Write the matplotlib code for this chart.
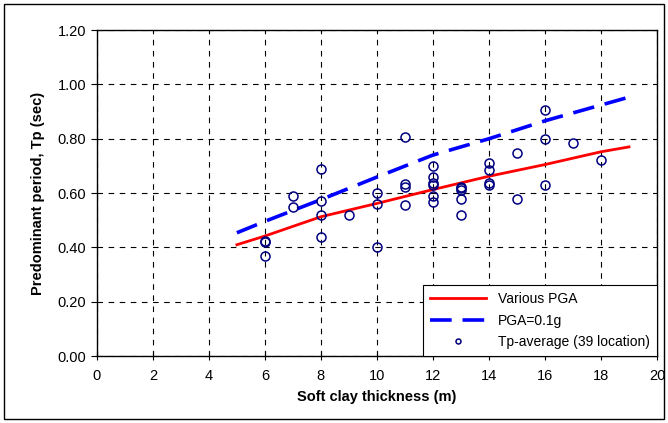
import numpy as np
import matplotlib
matplotlib.use("Agg")
import matplotlib.pyplot as plt
from matplotlib.patches import Rectangle

plt.rcParams["font.family"] = ["Liberation Sans", "DejaVu Sans"]

# Datos
thickness = [6, 6, 6, 7, 7, 8, 8, 8, 8, 9, 10, 10, 10,
             11, 11, 11, 11, 12, 12, 12, 12, 12, 12,
             13, 13, 13, 13, 13, 14, 14, 14, 14, 15, 15,
             16, 16, 16, 17, 18]
tp_avg = [0.42, 0.425, 0.37, 0.59, 0.55, 0.69, 0.57, 0.52, 0.44, 0.52, 0.60, 0.56, 0.40,
          0.805, 0.633, 0.623, 0.558, 0.70, 0.66, 0.638, 0.629, 0.59, 0.567,
          0.623, 0.617, 0.611, 0.58, 0.519, 0.709, 0.685, 0.636, 0.629, 0.748, 0.578,
          0.905, 0.80, 0.63, 0.785, 0.72]

curve_x = [5, 6, 8, 10, 12, 14, 16, 18, 19]
various_pga = [0.41, 0.442, 0.513, 0.562, 0.613, 0.662, 0.705, 0.752, 0.77]
pga_01g = [0.454, 0.496, 0.576, 0.659, 0.74, 0.80, 0.866, 0.924, 0.953]

fig = plt.figure(figsize=(6.68, 4.23), dpi=100)
ax = fig.add_axes([0.145, 0.158, 0.8385, 0.771])

ax.plot(curve_x, various_pga, color="#ff0000", linewidth=2, label="Various PGA")
ax.plot(curve_x, pga_01g, color="#0000ff", linewidth=2.6, linestyle=(0, (6, 3)),
        label="PGA=0.1g")
ax.plot(thickness, tp_avg, linestyle="none", marker="o", markersize=6.5,
        markerfacecolor="none", markeredgecolor="#000080", markeredgewidth=1.1,
        label="Tp-average (39 location)")

ax.set_xlim(0, 20)
ax.set_ylim(0, 1.2)
ax.set_xticks(range(0, 21, 2))
ax.set_yticks(np.arange(0, 1.21, 0.2))
ax.set_yticklabels([f"{v:.2f}" for v in np.arange(0, 1.21, 0.2)])
ax.grid(True, color="black", linestyle=(0, (5, 5)), linewidth=0.8)
ax.tick_params(axis="x", direction="inout", length=6, labelsize=10.5, pad=6)
ax.tick_params(axis="y", direction="out", length=4, labelsize=10.5)
for s in ax.spines.values():
    s.set_linewidth(1.0)

ax.set_xlabel("Soft clay thickness (m)", fontsize=10.5, fontweight="bold", labelpad=5)
ax.set_ylabel("Predominant period, Tp (sec)", fontsize=10.5, fontweight="bold", labelpad=9)

leg = ax.legend(loc="lower right", fontsize=10, fancybox=False, framealpha=1,
                edgecolor="black", borderaxespad=0, handlelength=4,
                labelspacing=0.55, markerscale=0.55, handletextpad=0.9,
                borderpad=0.5)
leg.get_frame().set_linewidth(0.8)

fig.patches.append(Rectangle((0.006, 0.01), 0.988, 0.98, transform=fig.transFigure,
                             fill=False, edgecolor="black", linewidth=1))

plt.savefig("out.png", dpi=100)
plt.close()
